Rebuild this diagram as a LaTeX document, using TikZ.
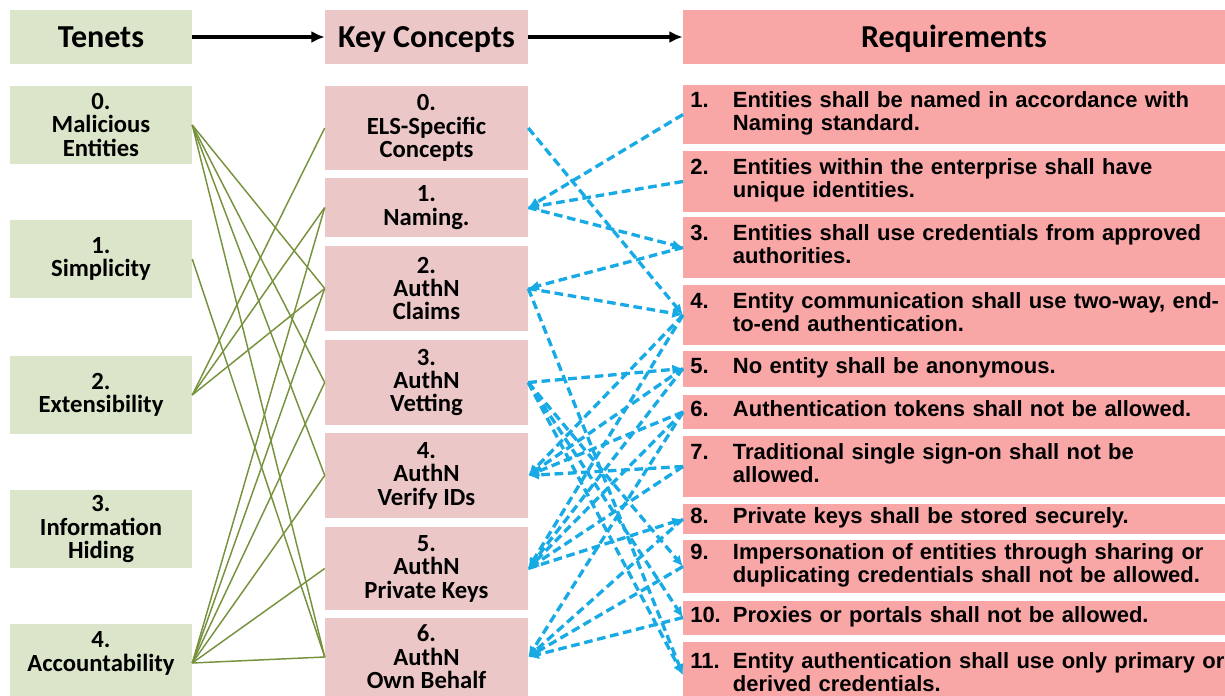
\documentclass[tikz,border=0pt]{standalone}
\usepackage{fontspec}
\setmainfont{Carlito}
\newfontfamily\reqfont{Liberation Sans}
\usetikzlibrary{arrows.meta}

\definecolor{tenetgreen}{RGB}{218,229,201}
\definecolor{conceptpink}{RGB}{236,199,199}
\definecolor{reqpink}{RGB}{248,166,166}
\definecolor{tieolive}{RGB}{118,146,60}
\definecolor{linkblue}{RGB}{24,170,228}

% one requirement: number, then its lines hung after it
\newcommand{\reqtext}[2]{\noindent\begin{tabular}{@{}p{32pt}@{}l@{}}#1 & #2\end{tabular}}

\tikzset{
	headbox/.style={minimum height=40.5pt, inner sep=0pt, text height=15.5pt, text depth=0pt,
		font=\fontsize{24}{28}\selectfont\bfseries},
	tenet/.style={fill=tenetgreen, minimum width=136.5pt, minimum height=58.5pt,
		inner sep=0pt, align=center, font=\fontsize{18.5}{17.6}\selectfont\bfseries},
	concept/.style={fill=conceptpink, minimum width=152.25pt, inner sep=0pt,
		align=center, font=\fontsize{18.5}{17.6}\selectfont\bfseries},
	req/.style={fill=reqpink, anchor=west, minimum width=406.5pt, inner xsep=5.25pt,
		inner ysep=0pt, text width=396pt, font=\reqfont\fontsize{16.5}{17.2}\selectfont\bfseries},
	tie/.style={tieolive, line width=1.1pt},
	link/.style={linkblue, line width=2.5pt, dash pattern=on 6.5pt off 3.5pt,
		-{Latex[length=8pt,width=7.5pt]}},
	flow/.style={line width=2.6pt, -{Latex[length=10pt,width=9pt]}}
}

\begin{document}
\begin{tikzpicture}[x=0.75pt, y=-0.75pt]
	\useasboundingbox (0,0) rectangle (1225,696);

	% column heads
	\node[headbox, fill=tenetgreen, minimum width=136.5pt] (hten) at (101,37) {Tenets};
	\node[headbox, fill=conceptpink, minimum width=152.25pt] (hkey) at (426.5,37) {Key Concepts};
	\node[headbox, fill=reqpink, minimum width=406.5pt] (hreq) at (954,37) {Requirements};
	\draw[flow] (hten) -- (hkey);
	\draw[flow] (hkey) -- (hreq);

	% tenets
	\node[tenet] (t0) at (101,125) {0.\\Malicious\\Entities};
	\node[tenet] (t1) at (101,259) {1.\\Simplicity};
	\node[tenet] (t2) at (101,395) {2.\\Extensibility};
	\node[tenet] (t3) at (101,529) {3.\\Information\\Hiding};
	\node[tenet, text depth=17pt] (t4) at (101,663) {4.\\Accountability};

	% key concepts
	\node[concept, minimum height=63pt] (c0) at (426.5,128) {0.\\ELS-Specific\\Concepts};
	\node[concept, minimum height=44.25pt] (c1) at (426.5,207.5) {1.\\Naming.};
	\node[concept, minimum height=63.75pt] (c2) at (426.5,288.5) {2.\\AuthN\\Claims};
	\node[concept, minimum height=63.75pt] (c3) at (426.5,382.5) {3.\\AuthN\\Vetting};
	\node[concept, minimum height=63.75pt] (c4) at (426.5,475.5) {4.\\AuthN\\Verify IDs};
	\node[concept, minimum height=62.25pt] (c5) at (426.5,568.5) {5.\\AuthN\\Private Keys};
	\node[concept, minimum height=58.5pt] (c6) at (426.5,657) {6.\\AuthN\\Own Behalf};

	% requirements
	\node[req, minimum height=44.25pt] (r1) at (683,114.5) {\reqtext{1.}{Entities shall be named in accordance with\\ & Naming standard.}};
	\node[req, minimum height=45.75pt] (r2) at (683,181.5) {\reqtext{2.}{Entities within the enterprise shall have\\ & unique identities.}};
	\node[req, minimum height=45.75pt] (r3) at (683,247.5) {\reqtext{3.}{Entities shall use credentials from approved\\ & authorities.}};
	\node[req, minimum height=45pt] (r4) at (683,315) {\reqtext{4.}{Entity communication shall use two-way, end-\\ & to-end authentication.}};
	\node[req, minimum height=27pt] (r5) at (683,368.5) {\reqtext{5.}{No entity shall be anonymous.}};
	\node[req, minimum height=25.5pt] (r6) at (683,412) {\reqtext{6.}{Authentication tokens shall not be allowed.}};
	\node[req, minimum height=45.75pt] (r7) at (683,466.5) {\reqtext{7.}{Traditional single sign-on shall not be\\ & allowed.}};
	\node[req, minimum height=22.5pt] (r8) at (683,519) {\reqtext{8.}{Private keys shall be stored securely.}};
	\node[req, minimum height=39.75pt] (r9) at (683,566.5) {\reqtext{9.}{Impersonation of entities through sharing or\\ & duplicating credentials shall not be allowed.}};
	\node[req, minimum height=25.5pt] (r10) at (683,617.5) {\reqtext{10.}{Proxies or portals shall not be allowed.}};
	\node[req, minimum height=49.5pt] (r11) at (683,675) {\reqtext{11.}{Entity authentication shall use only primary or\\ & derived credentials.}};

	% tenets to key concepts
	\foreach \a/\b in {t0/c2, t0/c3, t0/c4, t0/c6, t1/c6, t2/c0, t2/c1, t2/c2,
			t4/c1, t4/c2, t4/c3, t4/c4, t4/c5, t4/c6}
		\draw[tie] (\a.east) -- (\b.west);

	% key concepts to requirements
	\foreach \a/\b in {c0/r4, c1/r3, c2/r4, c2/r11, c3/r5, c3/r9, c3/r10, c3/r11, c5/r8}
		\draw[link] (\a.east) -- (\b.west);
	\foreach \a/\b in {r1/c1, r2/c1, r3/c2, r4/c4, r5/c4, r6/c4, r7/c4,
			r4/c5, r5/c5, r6/c5, r7/c5, r6/c6, r8/c6, r9/c6, r10/c6}
		\draw[link] (\a.west) -- (\b.east);
\end{tikzpicture}
\end{document}
